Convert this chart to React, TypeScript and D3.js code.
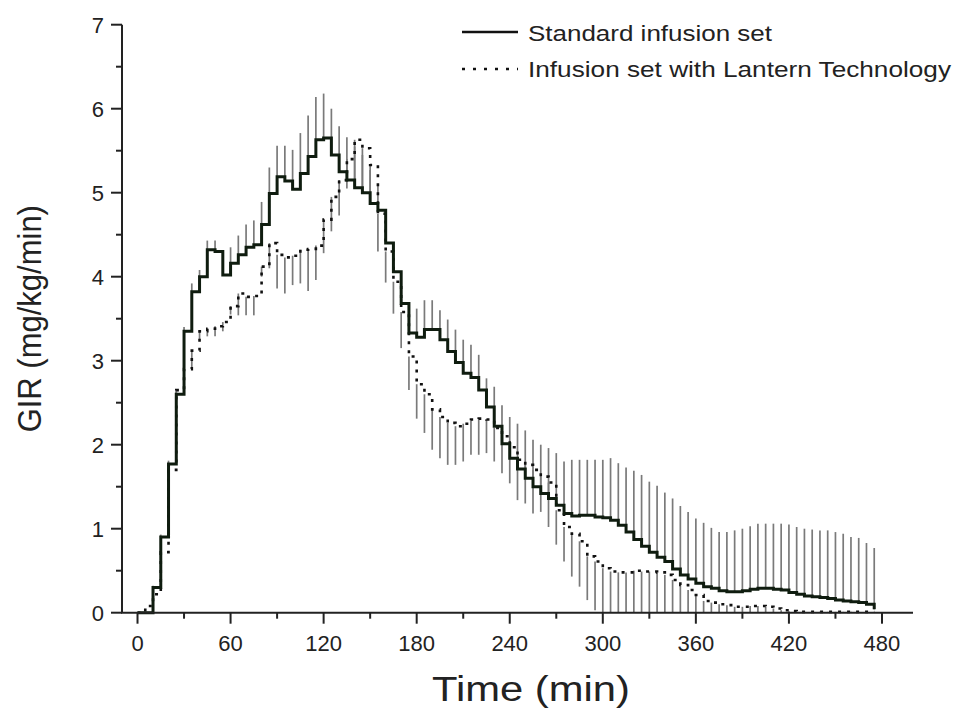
import React from "react";
import * as d3 from "d3";

const time = [0,5,10,15,20,25,30,35,40,45,50,55,60,65,70,75,80,85,90,95,100,105,110,115,120,125,130,135,140,145,150,155,160,165,170,175,180,185,190,195,200,205,210,215,220,225,230,235,240,245,250,255,260,265,270,275,280,285,290,295,300,305,310,315,320,325,330,335,340,345,350,355,360,365,370,375,380,385,390,395,400,405,410,415,420,425,430,435,440,445,450,455,460,465,470,475];

const standardMean = [0,0,0.30,0.90,1.77,2.60,3.35,3.82,4.00,4.32,4.30,4.02,4.16,4.26,4.35,4.38,4.62,4.99,5.19,5.14,5.04,5.23,5.43,5.63,5.65,5.45,5.25,5.15,5.06,5.00,4.87,4.79,4.40,4.06,3.68,3.33,3.28,3.37,3.37,3.25,3.11,2.98,2.85,2.80,2.65,2.45,2.22,2.01,1.84,1.71,1.60,1.50,1.42,1.36,1.28,1.18,1.15,1.16,1.16,1.14,1.13,1.10,1.04,0.96,0.87,0.79,0.72,0.66,0.61,0.52,0.45,0.40,0.35,0.31,0.29,0.26,0.25,0.25,0.26,0.28,0.29,0.29,0.28,0.27,0.24,0.22,0.20,0.19,0.18,0.17,0.15,0.14,0.13,0.12,0.10,0.04];

const standardErr = [0,0,0.02,0.03,0.04,0.05,0.05,0.10,0.08,0.11,0.13,0.06,0.19,0.23,0.27,0.29,0.27,0.31,0.37,0.42,0.47,0.48,0.49,0.51,0.53,0.55,0.54,0.51,0.49,0.45,0.40,0.30,0.20,0.15,0.20,0.29,0.34,0.35,0.35,0.35,0.38,0.39,0.40,0.39,0.42,0.34,0.47,0.46,0.49,0.54,0.57,0.56,0.58,0.60,0.62,0.62,0.67,0.66,0.66,0.68,0.69,0.74,0.74,0.77,0.82,0.85,0.84,0.85,0.82,0.84,0.82,0.80,0.77,0.76,0.72,0.70,0.71,0.73,0.74,0.75,0.77,0.77,0.78,0.79,0.81,0.80,0.80,0.80,0.80,0.81,0.81,0.80,0.77,0.77,0.73,0.73];

const lanternMean = [0,0.08,0.22,0.72,1.70,2.65,2.90,3.12,3.35,3.38,3.41,3.46,3.65,3.80,3.76,3.77,4.12,4.40,4.26,4.23,4.25,4.32,4.33,4.37,4.68,4.95,5.15,5.40,5.63,5.53,5.33,4.75,4.30,3.94,3.58,3.05,2.72,2.60,2.42,2.33,2.26,2.22,2.25,2.30,2.31,2.30,2.20,2.10,1.97,1.82,1.76,1.70,1.62,1.55,1.22,1.02,0.94,0.85,0.67,0.61,0.53,0.49,0.48,0.48,0.50,0.49,0.49,0.48,0.45,0.39,0.33,0.27,0.21,0.14,0.12,0.10,0.09,0.07,0.07,0.08,0.08,0.07,0.05,0.03,0.02,0.01,0.01,0.01,0.01,0.01,0.01,0.01,0.01,0.01,0.01,0.01];

const lanternErr = [0,0,0.02,0.05,0.05,0.05,0.10,0.20,0.10,0.09,0.12,0.11,0.10,0.26,0.22,0.23,0.12,0.30,0.40,0.43,0.35,0.40,0.50,0.41,0.40,0.41,0.42,0.35,0.48,0.48,0.40,0.45,0.37,0.38,0.43,0.40,0.41,0.46,0.48,0.49,0.50,0.46,0.45,0.42,0.43,0.40,0.40,0.44,0.43,0.48,0.46,0.52,0.42,0.53,0.41,0.41,0.51,0.54,0.52,0.58,0.60,0.60,0.60,0.60,0.60,0.60,0.60,0.60,0.60,0.60,0.60,0.60,0.60,0.60,0.60,0.60,0.60,0.60,0.60,0.60,0.60,0.60,0.60,0.60,0.01,0.01,0.01,0.01,0.01,0.01,0.01,0.01,0.01,0.01,0.01,0.01];

const xTicks = [0,60,120,180,240,300,360,420,480];
const xMinorTicks = [30,90,150,210,270,330,390,450];
const yTicks = [0,1,2,3,4,5,6,7];
const yMinorTicks = [0.5,1.5,2.5,3.5,4.5,5.5,6.5];
const seriesNames = ["Standard infusion set", "Infusion set with Lantern Technology"];

const W = 957, H = 710;
const x = d3.scaleLinear().domain([-10, 500]).range([122, 913]);
const y = d3.scaleLinear().domain([0, 7]).range([612.7, 24.7]);

const FONT = "'Liberation Sans', Arial, Helvetica, sans-serif";
const AXIS = "#222";

export default function App() {
  const std = time.map((t, i) => ({ t, v: standardMean[i], e: standardErr[i] }));
  const lan = time.map((t, i) => ({ t, v: lanternMean[i], e: lanternErr[i] }));
  const line = d3
    .line<{ t: number; v: number }>()
    .x((d) => x(d.t))
    .y((d) => y(d.v))
    .curve(d3.curveStepAfter);

  return (
    <svg width={W} height={H} style={{ position: "absolute", left: 0, top: 0, background: "#fff" }} fontFamily={FONT}>
      {/* error bars */}
      <g stroke="#7a7a7a" strokeWidth={1.7}>
        {std.map((d, i) =>
          d.e > 0 ? <line key={"se" + i} x1={x(d.t)} x2={x(d.t)} y1={y(d.v)} y2={y(d.v + d.e)} /> : null
        )}
        {lan.map((d, i) =>
          d.e > 0 ? <line key={"le" + i} x1={x(d.t)} x2={x(d.t)} y1={y(d.v)} y2={y(Math.max(0, d.v - d.e))} /> : null
        )}
      </g>
      {/* lines */}
      <path d={line(lan) || ""} fill="none" stroke="#111" strokeWidth={2.6} strokeDasharray="3,6" />
      <path d={line(std) || ""} fill="none" stroke="#0f1c0f" strokeWidth={3} strokeLinejoin="miter" />

      {/* axes */}
      <g stroke={AXIS} strokeWidth={2}>
        <line x1={x(-10)} x2={x(-10)} y1={y(7)} y2={y(0)} />
        <line x1={x(-10) - 1} x2={x(500)} y1={y(0)} y2={y(0)} />
        {yTicks.map((v) => (
          <line key={"yt" + v} x1={x(-10) - 11} x2={x(-10)} y1={y(v)} y2={y(v)} />
        ))}
        {yMinorTicks.map((v) => (
          <line key={"ym" + v} x1={x(-10) - 6} x2={x(-10)} y1={y(v)} y2={y(v)} />
        ))}
        {xTicks.map((v) => (
          <line key={"xt" + v} x1={x(v)} x2={x(v)} y1={y(0)} y2={y(0) + 11} />
        ))}
        {xMinorTicks.map((v) => (
          <line key={"xm" + v} x1={x(v)} x2={x(v)} y1={y(0)} y2={y(0) + 6} />
        ))}
      </g>
      <g fontSize={22} fill="#222">
        {yTicks.map((v) => (
          <text key={"yl" + v} x={x(-10) - 18} y={y(v) + 8} textAnchor="end">
            {v}
          </text>
        ))}
        {xTicks.map((v) => (
          <text key={"xl" + v} x={x(v)} y={651} textAnchor="middle">
            {v}
          </text>
        ))}
      </g>
      <text x={531} y={701} fontSize={35} fill="#222" textAnchor="middle" textLength={198} lengthAdjust="spacingAndGlyphs">
        Time (min)
      </text>
      <text transform={`translate(41, ${(y(0) + y(7)) / 2}) scale(1.1,1) rotate(-90)`} fontSize={31} fill="#222" textAnchor="middle">
        GIR (mg/kg/min)
      </text>

      {/* legend */}
      <line x1={462} x2={518} y1={32} y2={32} stroke="#111" strokeWidth={2.6} />
      <line x1={462} x2={518} y1={69} y2={69} stroke="#111" strokeWidth={2.6} strokeDasharray="3,8" />
      <text x={528} y={41} fontSize={22} fill="#222" textLength={244} lengthAdjust="spacingAndGlyphs">
        {seriesNames[0]}
      </text>
      <text x={528} y={77} fontSize={22} fill="#222" textLength={423} lengthAdjust="spacingAndGlyphs">
        {seriesNames[1]}
      </text>
    </svg>
  );
}
